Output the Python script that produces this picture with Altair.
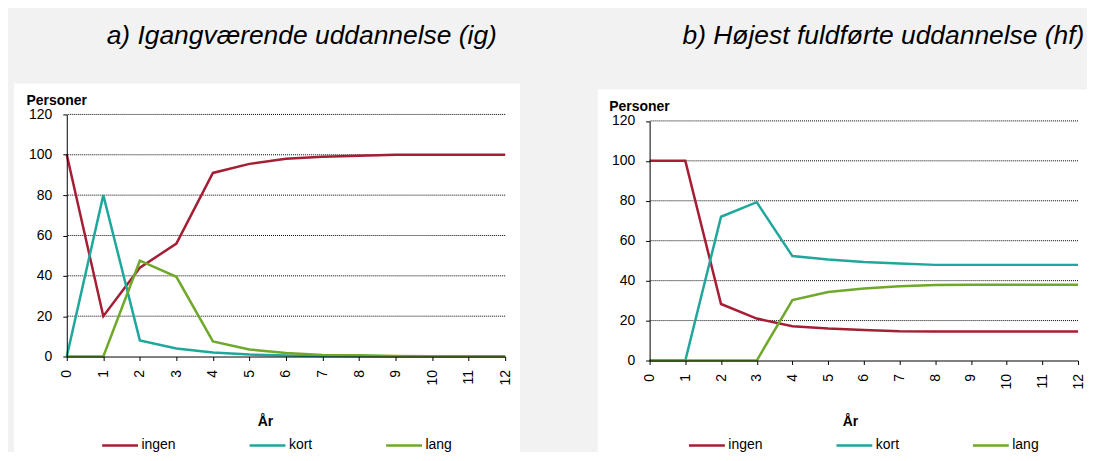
import altair as alt
import pandas as pd

years = [0, 1, 2, 3, 4, 5, 6, 7, 8, 9, 10, 11, 12]
series = ["ingen", "kort", "lang"]
colors = ["#A41E34", "#1FA79B", "#6FA82A"]
y_ticks = [0, 20, 40, 60, 80, 100, 120]
grid_vals = [20, 40, 60, 80, 100, 120]

a_ingen = [100, 20, 44, 56, 91, 95.5, 98, 99, 99.5, 100, 100, 100, 100]
a_kort = [0, 80, 8, 4, 2, 1, 0.5, 0.2, 0.1, 0, 0, 0, 0]
a_lang = [0, 0, 47.5, 39.5, 7.5, 3.5, 1.8, 0.8, 0.6, 0.3, 0.2, 0.1, 0.1]

b_ingen = [100, 100, 28.3, 21, 17.2, 16, 15.3, 14.6, 14.5, 14.5, 14.5, 14.5, 14.5]
b_kort = [0, 0, 72, 79.3, 52.3, 50.6, 49.3, 48.6, 47.9, 47.9, 47.9, 47.9, 47.9]
b_lang = [0, 0, 0, 0, 30.3, 34.3, 36.1, 37.2, 37.8, 38, 38, 38, 38]

title_a = "a) Igangværende uddannelse (ig)"
title_b = "b) Højest fuldførte uddannelse (hf)"


def long_df(ingen, kort, lang):
    rows = []
    for name, vals in zip(series, [ingen, kort, lang]):
        for yr, v in zip(years, vals):
            rows.append({"aar": yr, "v": v, "serie": name})
    return pd.DataFrame(rows)


def panel(df, title, tdx, toffset, w, h, yrange, rect, leg, xt, yt):
    yscale = alt.Scale(domain=[0, 120], nice=False, range=yrange)
    yaxis = alt.Axis(values=y_ticks, title="Personer", titleAngle=0,
                     titleAlign="left", titleBaseline="alphabetic",
                     titleX=yt[0], titleY=yt[1], titleFontWeight="bold",
                     grid=False, labelPadding=11, tickSize=4, zindex=1)
    bg = alt.Chart(pd.DataFrame({"k": [0]})).mark_rect(color="white").encode(
        x=alt.value(rect[0]), x2=alt.value(rect[1]),
        y=alt.value(rect[2]), y2=alt.value(rect[3]),
    )
    grid = alt.Chart(pd.DataFrame({"v": grid_vals})).mark_rule(
        color="black", strokeDash=[1, 1], strokeWidth=1
    ).encode(y=alt.Y("v:Q", scale=yscale, axis=yaxis))
    lines = alt.Chart(df).mark_line(strokeWidth=2.5).encode(
        x=alt.X("aar:Q", scale=alt.Scale(domain=[0, 12], nice=False),
                axis=alt.Axis(values=years, labelAngle=270, title="År",
                              titleX=xt[0], titleY=xt[1], titleAlign="center",
                              titleBaseline="alphabetic", titleFontWeight="bold",
                              grid=False, labelPadding=9, tickSize=4, zindex=1)),
        y=alt.Y("v:Q", scale=yscale, axis=yaxis),
        color=alt.Color("serie:N", sort=series,
                        scale=alt.Scale(domain=series, range=colors),
                        legend=alt.Legend(orient="none", legendX=leg[0], legendY=leg[1],
                                          direction="horizontal", title=None,
                                          symbolType="stroke", symbolSize=1296,
                                          symbolStrokeWidth=2.5, labelFontSize=14,
                                          labelColor="black", labelOffset=2,
                                          columnPadding=68, zindex=1)),
    )
    return alt.layer(bg, grid, lines).properties(
        width=w, height=h,
        title=alt.TitleParams(text=title, anchor="start", frame="group", dx=tdx,
                              offset=toffset, fontSize=26.5, fontStyle="italic",
                              fontWeight="normal", baseline="alphabetic", color="black"),
    )


left = panel(long_df(a_ingen, a_kort, a_lang), title_a, 40, 13.5, 440, 243, [243, 0],
             (-53, 455, -31, 400), (34, 312.5), (199, 69), (-41, -10))
right = panel(long_df(b_ingen, b_kort, b_lang), title_b, 33, 19.5, 430, 247, [247, 6.5],
              (-52, 460, -25, 400), (38, 312.5), (201, 65), (-41, -4))

chart = alt.hconcat(left, right, spacing=76).resolve_scale(
    x="independent", y="independent", color="independent"
).resolve_legend(color="independent").properties(
    padding={"left": 5, "top": 13, "right": -22, "bottom": -63},
    background="#f2f2f2",
).configure_view(strokeWidth=0).configure(
    font="Liberation Sans"
).configure_axis(
    domainColor="black", tickColor="black", labelColor="black", titleColor="black",
    labelFontSize=14, titleFontSize=14, domainWidth=1,
)

chart.save("out.html", embed_options={"renderer": "svg", "actions": False})
